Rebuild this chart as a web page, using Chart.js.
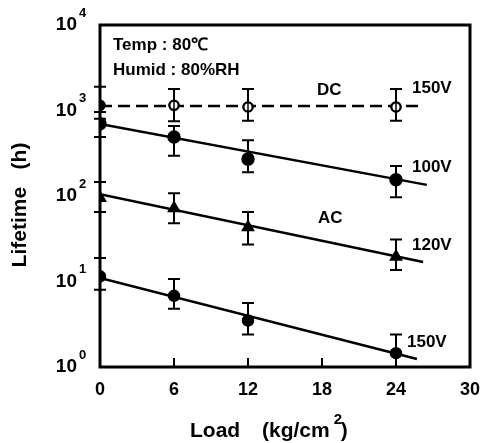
<!DOCTYPE html>
<html><head><meta charset="utf-8">
<script src="https://cdn.jsdelivr.net/npm/chart.js@4/dist/chart.umd.min.js"></script>
<style>html,body{margin:0;padding:0;background:#fff}#wrap{width:480px;height:443px;position:relative}</style>
</head><body><div id="wrap"><canvas id="c"></canvas></div>
<script>
// ---- data ----
const loads = [0, 6, 12, 24];
const xTicks = [0, 6, 12, 18, 24, 30];
const yTickValues = [1, 10, 100, 1000, 10000];
const yTickExps = ['0', '1', '2', '3', '4'];

const dc150 = [1150, 1150, 1100, 1100];
const dc150Hi = [1900, 1780, 1780, 1780];
const dc150Lo = [800, 750, 760, 760];

const ac100 = [700, 490, 270, 155];
const ac100Hi = [960, 660, 450, 225];
const ac100Lo = [490, 295, 190, 97];

const ac120 = [95, 72, 43, 19.5];
const ac120Hi = [146, 108, 65, 31];
const ac120Lo = [65, 48, 27, 13.6];

const ac150 = [11.5, 6.8, 3.5, 1.45];
const ac150Hi = [18.8, 10.7, 5.6, 2.4];
const ac150Lo = [8.0, 4.8, 2.4, 1.0];

const dcFitX = [0, 25.8];   const dcFitY = [1130, 1130];
const ac100FitX = [0, 26.5]; const ac100FitY = [695, 135];
const ac120FitX = [0, 26.2]; const ac120FitY = [105, 16.9];
const ac150FitX = [0, 25.7]; const ac150FitY = [11.0, 1.24];

const annotations = ['Temp : 80\u2103', 'Humid : 80%RH', 'DC', '150V', '100V', 'AC', '120V', '150V'];
const xTitleParts = ['Load', '(kg/cm', '2', ')'];
const yTitle = 'Lifetime   (h)';

// ---- helpers ----
const pts = (xs, ys) => xs.map((x, i) => ({x: x, y: ys[i]}));
const FONT = '"Liberation Sans", Arial, sans-serif';

const errorSets = [
  [dc150Hi, dc150Lo], [ac100Hi, ac100Lo], [ac120Hi, ac120Lo], [ac150Hi, ac150Lo]
];

const decor = {
  id: 'decor',
  afterDatasetsDraw(chart) {
    const ctx = chart.ctx, xs = chart.scales.x, ys = chart.scales.y, a = chart.chartArea;
    ctx.save();
    ctx.strokeStyle = '#000'; ctx.fillStyle = '#000';
    // error bars
    ctx.lineWidth = 2;
    errorSets.forEach(([hi, lo]) => {
      loads.forEach((l, i) => {
        const px = xs.getPixelForValue(l);
        const pH = ys.getPixelForValue(hi[i]);
        const pL = ys.getPixelForValue(lo[i]);
        ctx.beginPath();
        ctx.moveTo(px, pH); ctx.lineTo(px, pL);
        ctx.moveTo(px - 6, pH); ctx.lineTo(px + 6, pH);
        ctx.moveTo(px - 6, pL); ctx.lineTo(px + 6, pL);
        ctx.stroke();
      });
    });
    // redraw open circles on top of their bars
    const meta = chart.getDatasetMeta(0);
    meta.data.forEach((p, i) => {
      if (i === 0) return;
      ctx.beginPath(); ctx.arc(p.x, p.y, 4.5, 0, Math.PI * 2);
      ctx.fillStyle = '#fff'; ctx.fill();
      ctx.lineWidth = 2; ctx.strokeStyle = '#000'; ctx.stroke();
      ctx.beginPath(); ctx.moveTo(p.x, p.y - 4.5); ctx.lineTo(p.x, p.y + 4.5); ctx.lineWidth = 1.5; ctx.stroke();
    });
    ctx.fillStyle = '#000';
    // frame
    ctx.lineWidth = 3;
    ctx.strokeRect(a.left, a.top, a.right - a.left, a.bottom - a.top);
    // inward x ticks
    ctx.lineWidth = 2;
    xTicks.slice(1, -1).forEach(t => {
      const px = xs.getPixelForValue(t);
      ctx.beginPath(); ctx.moveTo(px, a.bottom); ctx.lineTo(px, a.bottom - 9); ctx.stroke();
    });
    // y tick labels 10^n
    yTickValues.forEach((v, i) => {
      const py = ys.getPixelForValue(v);
      ctx.font = 'bold 19px ' + FONT;
      ctx.textAlign = 'right'; ctx.textBaseline = 'middle';
      ctx.fillText('10', 77, py);
      ctx.font = 'bold 13px ' + FONT;
      ctx.textAlign = 'left';
      ctx.fillText(yTickExps[i], 79, py - 12);
    });
    // annotations
    const place = [
      [113, 50, 'alphabetic'], [113, 75, 'alphabetic'], [317, 90, 'middle'], [412, 88, 'middle'],
      [412, 167, 'middle'], [318, 218, 'middle'], [412, 245, 'middle'], [407, 342, 'middle']
    ];
    ctx.font = 'bold 17px ' + FONT;
    ctx.textAlign = 'left';
    annotations.forEach((t, i) => {
      ctx.textBaseline = place[i][2];
      ctx.fillText(t, place[i][0], place[i][1]);
    });
    // x axis title
    ctx.textBaseline = 'alphabetic'; ctx.textAlign = 'left';
    ctx.font = 'bold 21px ' + FONT;
    ctx.fillText(xTitleParts[0], 190, 437);
    ctx.fillText(xTitleParts[1], 262, 437);
    const w1 = ctx.measureText(xTitleParts[1]).width;
    ctx.font = 'bold 15px ' + FONT;
    ctx.fillText(xTitleParts[2], 262 + w1 + 4, 424);
    ctx.font = 'bold 21px ' + FONT;
    ctx.fillText(xTitleParts[3], 262 + w1 + 11, 437);
    // y axis title
    ctx.save();
    ctx.font = 'bold 21px ' + FONT;
    ctx.textAlign = 'center'; ctx.textBaseline = 'middle';
    ctx.translate(20, 205); ctx.rotate(-Math.PI / 2);
    ctx.fillText(yTitle, 0, 0);
    ctx.restore();
    ctx.restore();
  }
};

const pointSet = (data, style, r, bg) => ({
  type: 'line', data: data, showLine: false, pointStyle: style, pointRadius: r,
  pointBackgroundColor: bg, pointBorderColor: '#000', pointBorderWidth: 1.5
});
const fitSet = (data, dash) => ({
  type: 'line', data: data, borderColor: '#000', borderWidth: 2.5, borderDash: dash || [],
  pointRadius: 0, tension: 0, fill: false
});

new Chart(document.getElementById('c'), {
  data: {
    datasets: [
      pointSet(pts(loads, dc150), 'circle', 5, ['#000', '#fff', '#fff', '#fff']),
      fitSet(pts(dcFitX, dcFitY), [12, 6]),
      pointSet(pts(loads, ac100), 'circle', 6, '#000'),
      fitSet(pts(ac100FitX, ac100FitY)),
      pointSet(pts(loads, ac120), 'triangle', 6.5, '#000'),
      fitSet(pts(ac120FitX, ac120FitY)),
      pointSet(pts(loads, ac150), 'circle', 5.5, '#000'),
      fitSet(pts(ac150FitX, ac150FitY))
    ]
  },
  options: {
    responsive: true, maintainAspectRatio: false, animation: false,
    layout: {padding: {left: 0, top: 25, right: 10, bottom: 0}},
    plugins: {legend: {display: false}, tooltip: {enabled: false}},
    scales: {
      x: {
        type: 'linear', min: 0, max: 30,
        grid: {display: false, drawTicks: false}, border: {display: false},
        ticks: {stepSize: 6, color: '#000', padding: 12, font: {family: FONT, size: 18, weight: 'bold'}},
        afterFit(s) { s.height = 76; s.paddingLeft = 0; s.paddingRight = 0; }
      },
      y: {
        type: 'logarithmic', min: 1, max: 10000,
        grid: {display: false, drawTicks: false}, border: {display: false},
        ticks: {display: false},
        afterFit(s) { s.width = 100; s.paddingTop = 0; s.paddingBottom = 0; }
      }
    }
  },
  plugins: [decor]
});
</script></body></html>
